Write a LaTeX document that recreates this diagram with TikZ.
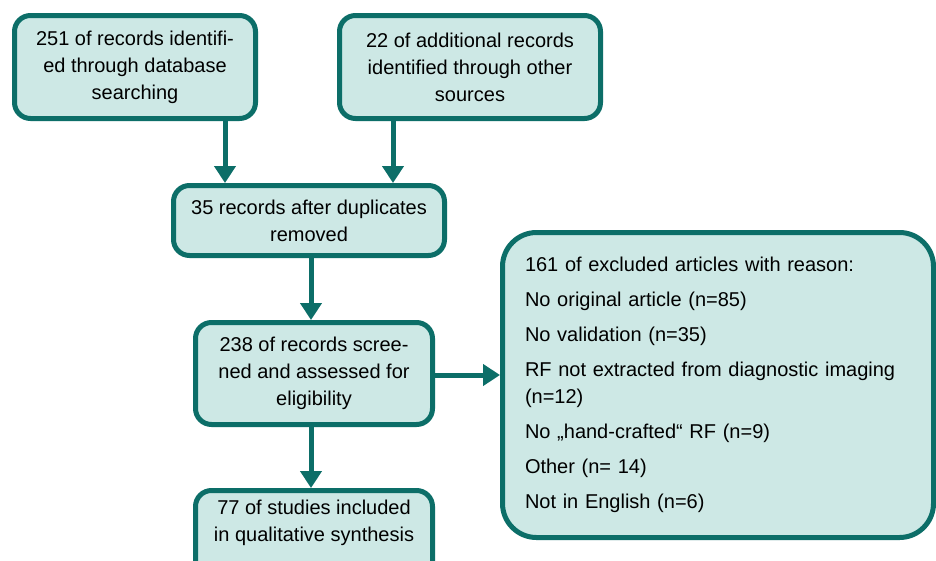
\documentclass[tikz,border=0pt]{standalone}
\usepackage{fontspec}
\setmainfont{Liberation Sans}
\usetikzlibrary{arrows.meta}
\definecolor{boxfill}{RGB}{205,232,229}
\definecolor{boxline}{RGB}{12,110,104}
\begin{document}
\begin{tikzpicture}[x=1pt,y=-1pt,
  box/.style={draw=boxline, fill=boxfill, line width=5pt, rounded corners=16pt,
    align=center, inner sep=0pt, font=\fontsize{20}{27}\selectfont},
  arr/.style={draw=boxline, line width=5pt, -{Triangle[width=21pt,length=17pt]}}]
\useasboundingbox (0,0) rectangle (936,560);
\clip (0,0) rectangle (936,560);
\fill[white] (0,0) rectangle (936,560);
\node[box, minimum width=241pt, minimum height=103pt] (b1) at (135,67)
  {251 of records identifi-\\ed through database\\searching};
\node[box, minimum width=261pt, minimum height=103pt] (b2) at (470,67)
  {22 of additional records\\identified through other\\sources};
\node[box, minimum width=271pt, minimum height=70pt] (b3) at (309,220.5)
  {35 records after duplicates\\removed};
\node[box, minimum width=237pt, minimum height=102pt] (b4) at (314,373.5)
  {238 of records scree-\\ned and assessed for\\eligibility};
\node[box, minimum width=237pt, minimum height=110pt, text depth=0pt] (b5) at (314,545.5) {};
\node[font=\fontsize{20}{27}\selectfont, align=center, inner sep=0pt] (b5t) at (314,523)
  {77 of studies included\\in qualitative synthesis};
\node[box, rounded corners=34pt, minimum width=431pt, minimum height=305pt,
  align=left, text width=386pt] (b6) at (718,385)
  {161 of excluded articles with reason:\\[8pt]
   No original article (n=85)\\[8pt]
   No validation (n=35)\\[8pt]
   RF not extracted from diagnostic imaging\\
   (n=12)\\[8pt]
   No „hand-crafted“ RF (n=9)\\[8pt]
   Other (n= 14)\\[8pt]
   Not in English (n=6)};
\coordinate (c1) at (225,0);
\coordinate (c2) at (393,0);
\coordinate (c3) at (311,0);
\draw[arr] (b1.south -| c1) -- (b3.north -| c1);
\draw[arr] (b2.south -| c2) -- (b3.north -| c2);
\draw[arr] (b3.south -| c3) -- (b4.north -| c3);
\draw[arr] (b4.south -| c3) -- (b5.north -| c3);
\draw[arr] (b4.east |- 0,375) -- (b6.west |- 0,375);
\end{tikzpicture}
\end{document}
